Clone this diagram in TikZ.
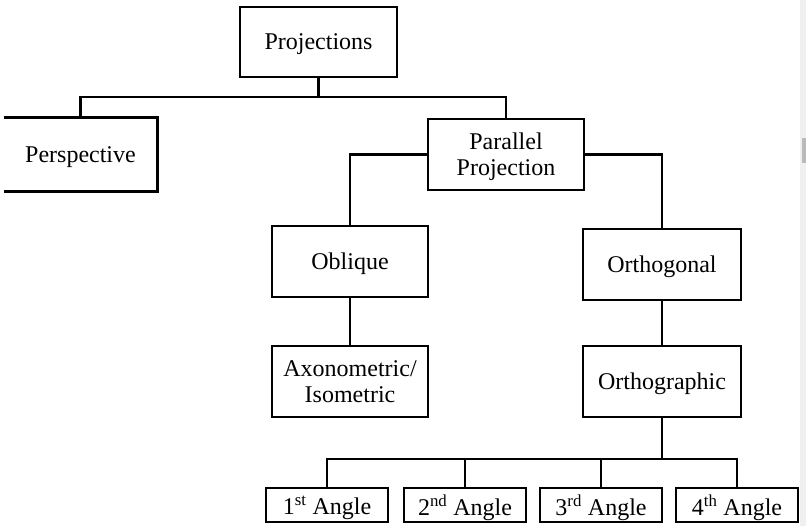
\documentclass[tikz,border=0pt]{standalone}
\usepackage{fontspec}
\setmainfont{Liberation Serif}
\usepackage{tikz}

\begin{document}
\begin{tikzpicture}[x=1pt, y=-1pt, line width=2.9pt,
		box/.style={draw, minimum width=156pt, minimum height=71pt, align=center, font=\fontsize{24}{26}\selectfont, inner sep=2pt, text depth=0pt},
		angle/.style={box, minimum width=122pt, minimum height=34pt}]
		\useasboundingbox (0,0) rectangle (806,526);
		% scroll bar strip on the right
		\fill [black!6] (800,0) rectangle (806,526);
		\fill [black!27] (802,138) rectangle (806,163);
		\node[box, minimum width=157pt, minimum height=70pt] (proj) at (318.5,42) {Projections};
		\node[box, draw=none, minimum width=151pt] (persp) at (80.5,154.5) {Perspective};
		\draw (persp.north west)--(persp.north east)--(persp.south east)--(persp.south west);
		\node[box] (para) at (506,154.5) {Parallel\\Projection};
		\node[box] (obl) at (350,261.5) {Oblique};
		\node[box, minimum width=158pt] (orthg) at (662,264.5) {Orthogonal};
		\node[box] (axo) at (350,381.5) {Axonometric/\\Isometric};
		\node[box, minimum width=158pt] (ortho) at (662,381.5) {Orthographic};
		\node[angle] (a1) at (327,505) {1\textsuperscript{st} Angle};
		\node[angle] (a2) at (465,505) {2\textsuperscript{nd} Angle};
		\node[angle] (a3) at (601,505) {3\textsuperscript{rd} Angle};
		\node[angle] (a4) at (737,505) {4\textsuperscript{th} Angle};
		\coordinate (top) at (318.5,97);
		\coordinate (bus) at (662,459);
		\draw (proj.south)--(top);
		\draw (persp.north) |- (top) -| (para.north);
		\draw (para.west) -| (obl.north);
		\draw (para.east) -| (orthg.north);
		\draw (obl.south)--(axo.north);
		\draw (orthg.south)--(ortho.north);
		\draw (ortho.south)--(bus);
		\draw (a1.north) |- (bus) -| (a4.north);
		\draw (a2.north)--(a2.north |- bus);
		\draw (a3.north)--(a3.north |- bus);
	\end{tikzpicture}
\end{document}
